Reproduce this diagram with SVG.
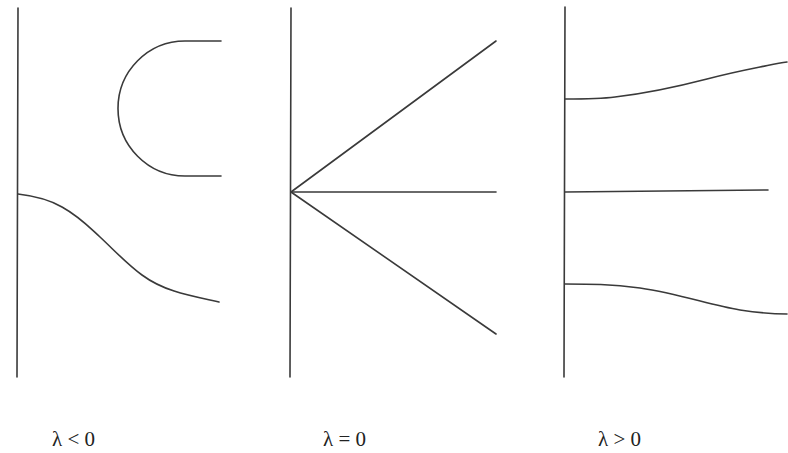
<svg xmlns="http://www.w3.org/2000/svg" width="788" height="453" viewBox="0 0 788 453">
<style>
.ln{fill:none;stroke:#3a3a3a;stroke-width:1.6;stroke-linecap:round;stroke-linejoin:round}
.lb{font-family:"Liberation Serif","Times New Roman",serif;font-size:21px;fill:#222}
</style>
<rect width="788" height="453" fill="#fff"/>
<g id="panel-neg">
<path class="ln" d="M18,8 L17,377"/>
<path class="ln" d="M221,41 L185,41 A67,67.5 0 0 0 185,176 L221,176"/>
<path class="ln" d="M18,194 C35,196 50,200 62,207 C80,217 90,228 100,237 C115,251 128,265 142,275 C165,292 192,296 219,302"/>
<text class="lb" x="52" y="446">λ &lt; 0</text>
</g>
<g id="panel-zero">
<path class="ln" d="M291,8 L290,377"/>
<path class="ln" d="M291,192 L496,41"/>
<path class="ln" d="M291,192 L496,192"/>
<path class="ln" d="M291,192 L496,334"/>
<text class="lb" x="323" y="446">λ = 0</text>
</g>
<g id="panel-pos">
<path class="ln" d="M565,99 C590,99 600,99 615,97 C650,93 680,86 707,79 C730,73 750,69 760,67 C770,65 778,63 787,62"/>
<path class="ln" d="M565,7 L564,377"/>
<path class="ln" d="M565,192 L768,190"/>
<path class="ln" d="M565,284 C590,284 610,284 640,288 C680,294 710,305 740,310 C760,313 775,314 787,314"/>
<text class="lb" x="598" y="446">λ &gt; 0</text>
</g>
<g id="connectors"/>
</svg>
